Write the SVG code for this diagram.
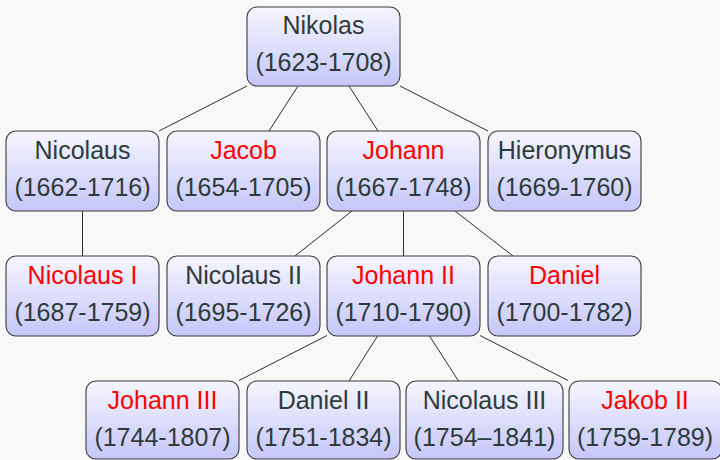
<svg xmlns="http://www.w3.org/2000/svg" width="720" height="460" viewBox="0 0 720 460">
<defs>
<linearGradient id="g" x1="0" y1="0" x2="0" y2="1">
<stop offset="0" stop-color="#f6f6ff"/>
<stop offset="1" stop-color="#c6c6fa"/>
</linearGradient>
<style>
.b{fill:url(#g);stroke:#3a3a3a;stroke-width:1.1}
text{font-family:"Liberation Sans",Arial,sans-serif;font-size:25px;text-anchor:middle;fill:#2d3b3b}
.r{fill:#ff0000}
.e line{stroke:#2d2d2d;stroke-width:1}
</style>
</defs>
<rect width="720" height="460" fill="#f8f8f8"/>
<g class="e" id="connectors">
<line x1="247" y1="86" x2="159" y2="131"/>
<line x1="298" y1="86" x2="269" y2="131"/>
<line x1="349" y1="86" x2="378" y2="131"/>
<line x1="400" y1="86" x2="488" y2="131"/>
<line x1="82.5" y1="211" x2="82.5" y2="256"/>
<line x1="352" y1="211" x2="295" y2="256"/>
<line x1="403.5" y1="211" x2="403.5" y2="256"/>
<line x1="455" y1="211" x2="513" y2="256"/>
<line x1="327" y1="335.5" x2="239" y2="380.5"/>
<line x1="377.5" y1="336" x2="349" y2="381"/>
<line x1="429.5" y1="336" x2="458.5" y2="381"/>
<line x1="480" y1="335.5" x2="568" y2="380.5"/>
</g>
<g id="nikolas"><rect class="b" x="247" y="7" width="153" height="79" rx="10"/><text x="323.5" y="34">Nikolas</text><text x="323.5" y="71">(1623-1708)</text></g>
<g id="nicolaus"><rect class="b" x="6" y="131" width="153" height="80" rx="10"/><text x="82.5" y="159">Nicolaus</text><text x="82.5" y="196">(1662-1716)</text></g>
<g id="jacob"><rect class="b" x="167" y="131" width="153" height="80" rx="10"/><text class="r" x="243.5" y="159">Jacob</text><text x="243.5" y="196">(1654-1705)</text></g>
<g id="johann"><rect class="b" x="327" y="131" width="153" height="80" rx="10"/><text class="r" x="403.5" y="159">Johann</text><text x="403.5" y="196">(1667-1748)</text></g>
<g id="hieronymus"><rect class="b" x="488" y="131" width="153" height="80" rx="10"/><text x="564.5" y="159">Hieronymus</text><text x="564.5" y="196">(1669-1760)</text></g>
<g id="nicolaus1"><rect class="b" x="6" y="256" width="153" height="80" rx="10"/><text class="r" x="82.5" y="284">Nicolaus I</text><text x="82.5" y="321">(1687-1759)</text></g>
<g id="nicolaus2"><rect class="b" x="167" y="256" width="153" height="80" rx="10"/><text x="243.5" y="284">Nicolaus II</text><text x="243.5" y="321">(1695-1726)</text></g>
<g id="johann2"><rect class="b" x="327" y="256" width="153" height="80" rx="10"/><text class="r" x="403.5" y="284">Johann II</text><text x="403.5" y="321">(1710-1790)</text></g>
<g id="daniel"><rect class="b" x="488" y="256" width="153" height="80" rx="10"/><text class="r" x="564.5" y="284">Daniel</text><text x="564.5" y="321">(1700-1782)</text></g>
<g id="johann3"><rect class="b" x="86" y="381" width="153" height="78" rx="10"/><text class="r" x="162.5" y="409">Johann III</text><text x="162.5" y="446">(1744-1807)</text></g>
<g id="daniel2"><rect class="b" x="247" y="381" width="153" height="78" rx="10"/><text x="323.5" y="409">Daniel II</text><text x="323.5" y="446">(1751-1834)</text></g>
<g id="nicolaus3"><rect class="b" x="406" y="381" width="157" height="78" rx="10"/><text x="484.5" y="409">Nicolaus III</text><text x="484.5" y="446">(1754–1841)</text></g>
<g id="jakob2"><rect class="b" x="569" y="381" width="153" height="78" rx="10"/><text class="r" x="645" y="409">Jakob II</text><text x="645" y="446">(1759-1789)</text></g>
</svg>
